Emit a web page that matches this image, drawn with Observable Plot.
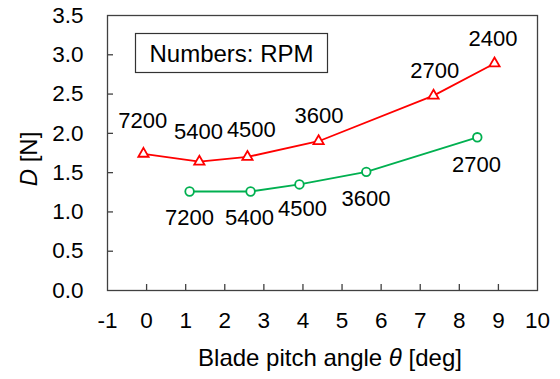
<!DOCTYPE html>
<html><head><meta charset="utf-8">
<script src="https://cdn.jsdelivr.net/npm/d3@7"></script>
<script src="https://cdn.jsdelivr.net/npm/@observablehq/plot@0.6"></script>
<style>
html,body{margin:0;padding:0;background:#fff;}
#chart{width:560px;height:379px;}
svg{font-family:"Liberation Sans",Arial,sans-serif;}
</style></head><body><div id="chart"></div>
<script>
// Red series (triangles)
const triRpm = ["7200","5400","4500","3600","2700","2400"];
const triPitch = [-0.08, 1.35, 2.58, 4.40, 7.34, 8.90];
const triDrag = [1.74, 1.64, 1.70, 1.90, 2.48, 2.89];
const triLabelX = [-0.10, 1.33, 2.68, 4.41, 7.37, 8.86];
const triLabelY = [2.16, 2.02, 2.04, 2.22, 2.79, 3.20];

// Green series (circles)
const circRpm = ["7200","5400","4500","3600","2700"];
const circPitch = [1.10, 2.66, 3.91, 5.62, 8.46];
const circDrag = [1.26, 1.26, 1.35, 1.51, 1.95];
const circLabelX = [1.10, 2.63, 3.99, 5.61, 8.44];
const circLabelY = [0.92, 0.92, 1.04, 1.16, 1.60];

const xTicks = [-1,0,1,2,3,4,5,6,7,8,9,10];
const yTicks = [0,0.5,1.0,1.5,2.0,2.5,3.0,3.5];

const tri = triPitch.map((x,i)=>({x, y: triDrag[i], lx: triLabelX[i], ly: triLabelY[i], label: triRpm[i]}));
const circ = circPitch.map((x,i)=>({x, y: circDrag[i], lx: circLabelX[i], ly: circLabelY[i], label: circRpm[i]}));

const FONT = '"Liberation Sans", Arial, sans-serif';
const axisColor = "#404040";

const chart = Plot.plot({
  width: 560, height: 379,
  marginLeft: 107, marginRight: 23, marginTop: 15, marginBottom: 89,
  style: {fontFamily: FONT, fontSize: "22px", color: "#000", background: "#fff"},
  x: {domain: [-1, 10]},
  y: {domain: [0, 3.5]},
  marks: [
    Plot.axisX({ticks: xTicks, tickSize: 0, tickPadding: 22, tickFormat: d => String(d), label: null, fontSize: 22.5}),
    Plot.axisY({ticks: yTicks, tickSize: 0, tickPadding: 24, tickFormat: d3.format(".1f"), label: null, fontSize: 22.5}),
    Plot.ruleX(xTicks.slice(1, -1), {x: d => d, y1: 0, y2: 0, insetTop: -6, stroke: axisColor, strokeWidth: 1.3}),
    Plot.ruleY(yTicks.slice(1, -1), {y: d => d, x1: -1, x2: -1, insetRight: -6, stroke: axisColor, strokeWidth: 1.3}),
    Plot.line(circ, {x: "x", y: "y", stroke: "#00b050", strokeWidth: 1.8}),
    Plot.dot(circ, {x: "x", y: "y", r: 4.3, stroke: "#00b050", fill: "white", strokeWidth: 1.8}),
    Plot.line(tri, {x: "x", y: "y", stroke: "#ff0000", strokeWidth: 1.8}),
    Plot.dot(tri, {x: "x", y: "y", symbol: "triangle", r: 3.8, stroke: "#ff0000", fill: "white", strokeWidth: 1.8}),
    Plot.text(tri, {x: "lx", y: "ly", text: "label", fontSize: 22, fill: "#000"}),
    Plot.text(circ, {x: "lx", y: "ly", text: "label", fontSize: 22, fill: "#000"}),
    Plot.frame({stroke: axisColor, strokeWidth: 1.3})
  ]
});
document.getElementById("chart").appendChild(chart);

const svg = d3.select(chart);
// Annotation box
const g = svg.append("g");
g.append("rect").attr("x", 135.5).attr("y", 33.5).attr("width", 192).attr("height", 39)
  .attr("fill", "white").attr("stroke", "#333").attr("stroke-width", 1.2);
g.append("text").attr("x", 231.5).attr("y", 62).attr("text-anchor", "middle")
  .attr("font-size", 24).attr("font-family", FONT).attr("fill", "#000").text("Numbers: RPM");

// X axis title
const xt = svg.append("text").attr("x", 330).attr("y", 366).attr("text-anchor", "middle")
  .attr("font-size", 24).attr("font-family", FONT).attr("fill", "#000");
xt.append("tspan").text("Blade pitch angle ");
xt.append("tspan").attr("font-style", "italic").text("θ");
xt.append("tspan").text(" [deg]");

// Y axis title
const yt = svg.append("text").attr("transform", "translate(37,159) rotate(-90)").attr("text-anchor", "middle")
  .attr("font-size", 24).attr("font-family", FONT).attr("fill", "#000");
yt.append("tspan").attr("font-style", "italic").text("D");
yt.append("tspan").text(" [N]");
</script>
</body></html>
